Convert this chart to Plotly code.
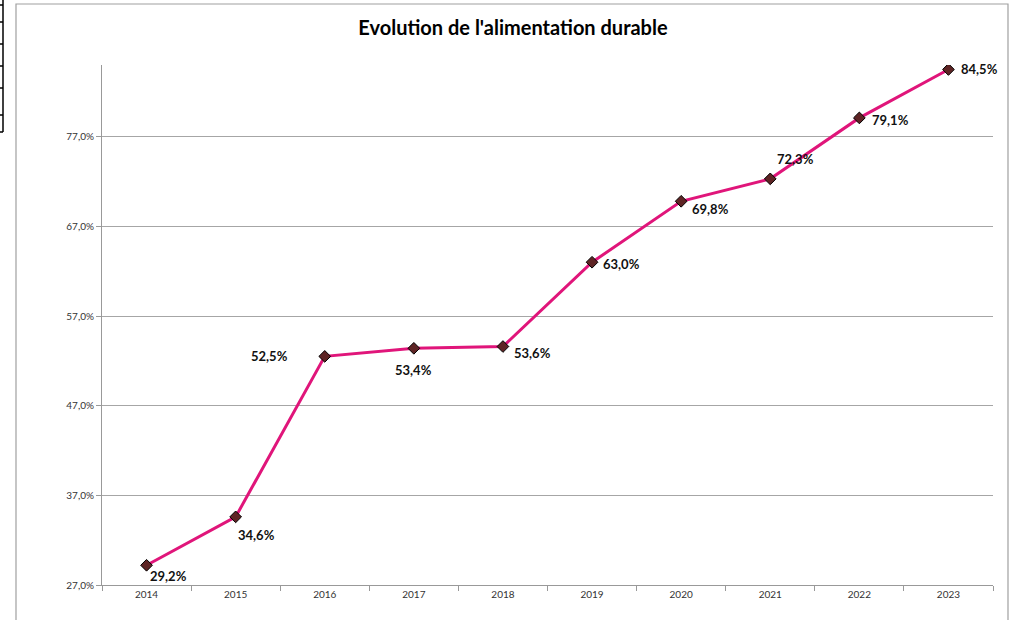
import plotly.graph_objects as go

years = ["2014", "2015", "2016", "2017", "2018", "2019", "2020", "2021", "2022", "2023"]
values = [29.2, 34.6, 52.5, 53.4, 53.6, 63.0, 69.8, 72.3, 79.1, 84.5]
y_ticks = [27, 37, 47, 57, 67, 77]
title_text = "Evolution de l'alimentation durable"

# label offsets in pixels (style only)
label_offsets = [(22, -11), (21, -18), (-55, 0), (0, -22), (30, -6),
                 (29, -2), (29, -8), (25, 20), (31, -2), (31, 0)]

def fmt_pct(v):
    return ("%.1f" % v).replace(".", ",") + "%"

W, H = 1017, 620
L, R, T, B = 102, 24, 65, 35
pw, ph = W - L - R, H - T - B

def px(x):
    return (x - L) / pw

def py(y):
    return (H - B - y) / ph

fig = go.Figure()
fig.add_trace(go.Scatter(
    x=years, y=values, mode="lines+markers",
    line=dict(color="#E0157A", width=3),
    marker=dict(symbol="diamond", size=9, color="#5E2424",
                line=dict(color="#000000", width=1)),
    hoverinfo="skip", showlegend=False,
))

for i, (v, (dx, dy)) in enumerate(zip(values, label_offsets)):
    fig.add_annotation(
        x=i, y=v, xref="x", yref="y", text="<b>" + fmt_pct(v) + "</b>", showarrow=False,
        xshift=dx, yshift=dy,
        font=dict(family="Lato, Open Sans, sans-serif", size=13, color="#111111"),
    )

shapes = [
    dict(type="rect", xref="paper", yref="paper", x0=px(16), x1=px(1008), y0=py(630), y1=py(4),
         line=dict(color="#A0A0A0", width=1.2), fillcolor="rgba(0,0,0,0)", layer="below"),
    dict(type="line", xref="paper", yref="paper", x0=px(3), x1=px(3), y0=py(132), y1=py(0),
         line=dict(color="#000000", width=1.5)),
]
for hy in [5, 22, 44, 66, 88, 115, 132]:
    shapes.append(dict(type="line", xref="paper", yref="paper", x0=px(0), x1=px(3), y0=py(hy), y1=py(hy),
                       line=dict(color="#000000", width=1.5)))

fig.update_layout(
    width=W, height=H,
    margin=dict(l=L, r=R, t=T, b=B),
    paper_bgcolor="white", plot_bgcolor="white",
    title=dict(text="<b>" + title_text + "</b>", x=513 / W, xanchor="center", y=1 - 28 / H, yanchor="middle",
               font=dict(family="Lato, Open Sans, sans-serif", size=20, color="#000000")),
    shapes=shapes,
    font=dict(family="Lato, Open Sans, sans-serif", size=10, color="#333333"),
)

fig.update_xaxes(
    type="category", range=[-0.5, 9.5],
    showline=True, linecolor="#999999", linewidth=1,
    ticks="outside", tickson="boundaries", ticklen=5, tickcolor="#999999",
    showgrid=False, tickfont=dict(size=10, color="#333333"), fixedrange=True,
)
fig.update_yaxes(
    range=[27, 85], tickvals=y_ticks, ticktext=[fmt_pct(t) for t in y_ticks],
    showline=True, linecolor="#999999", linewidth=1,
    ticks="outside", ticklen=5, tickcolor="#999999",
    showgrid=True, gridcolor="#A6A6A6", gridwidth=1, zeroline=False,
    tickfont=dict(size=10, color="#333333"), fixedrange=True,
)

fig.write_html("out.html", config={"displayModeBar": False},
               post_script="document.body.style.margin='0px';")
